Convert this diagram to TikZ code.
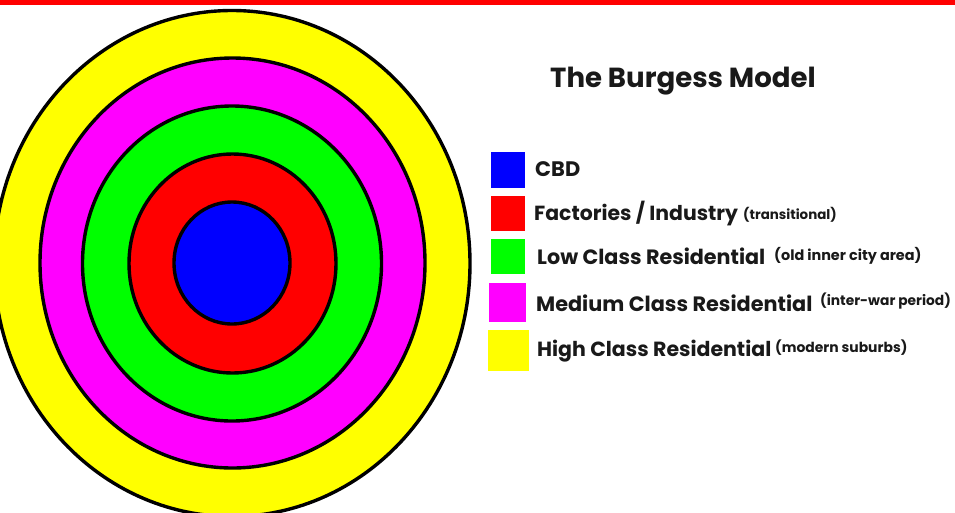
\documentclass[tikz,border=0pt]{standalone}
\usepackage{fontspec}
\usetikzlibrary{shapes.geometric}
\setmainfont{Poppins}
\definecolor{cblue}{RGB}{0,0,255}
\definecolor{cred}{RGB}{255,0,0}
\definecolor{cgreen}{RGB}{0,255,0}
\definecolor{cmag}{RGB}{255,0,255}
\definecolor{cyel}{RGB}{255,255,0}
\begin{document}
\begin{tikzpicture}[x=1pt,y=-1pt,
ring/.style={ellipse,draw=black,line width=3.4pt,inner sep=0pt,outer sep=0pt,fill=#1},
swatch/.style={rectangle,fill=#1,inner sep=0pt,outer sep=0pt},
lab/.style={anchor=west,inner sep=0pt,text=black!90,font=\fontsize{#1}{24}\selectfont\bfseries},
sub/.style={anchor=west,inner sep=0pt,text=black!90,font=\fontsize{#1}{14}\selectfont\bfseries}]
\useasboundingbox (0,0) rectangle (955,512);
\clip (0,0) rectangle (955,512);
\fill[white] (0,0) rectangle (955,512);
\fill[cred] (0,0) rectangle (955,5);
\node[ring=cyel,minimum width=476pt,minimum height=506pt] (r5) at (232,263.5) {};
\node[ring=cmag,minimum width=385pt,minimum height=410pt] (r4) at (232.5,263) {};
\node[ring=cgreen,minimum width=299pt,minimum height=315pt] (r3) at (232,263.5) {};
\node[ring=cred,minimum width=207pt,minimum height=219pt] (r2) at (232.5,263.5) {};
\node[ring=cblue,minimum width=116pt,minimum height=122pt] (r1) at (232,263) {};
\node[swatch=cblue,minimum width=34pt,minimum height=36pt] (s1) at (507.5,170) {};
\node[swatch=cred,minimum width=34pt,minimum height=35.5pt] (s2) at (507.5,213.5) {};
\node[swatch=cgreen,minimum width=34pt,minimum height=35.5pt] (s3) at (507.5,256.3) {};
\node[swatch=cmag,minimum width=36.5pt,minimum height=39pt] (s4) at (507.7,302.5) {};
\node[swatch=cyel,minimum width=41pt,minimum height=41pt] (s5) at (508.5,350.5) {};
\node[lab=27.6] (title) at (550,81.5) {The Burgess Model};
\node[lab=21] (l1) at (535,169.5) {CBD};
\node[lab=20.4] (l2) at (534,214) {Factories / Industry};
\node[sub=13.4] (t2) at (743,214.5) {(transitional)};
\node[lab=20.7] (l3) at (537,256) {Low Class Residential};
\node[sub=14.4] (t3) at (774,255.5) {(old inner city area)};
\node[lab=20.8] (l4) at (536,303) {Medium Class Residential};
\node[sub=13.8] (t4) at (820,301.5) {(inter-war period)};
\node[lab=20.5] (l5) at (537,351) {High Class Residential};
\node[sub=13.9] (t5) at (775,347.5) {(modern suburbs)};
\end{tikzpicture}
\end{document}
